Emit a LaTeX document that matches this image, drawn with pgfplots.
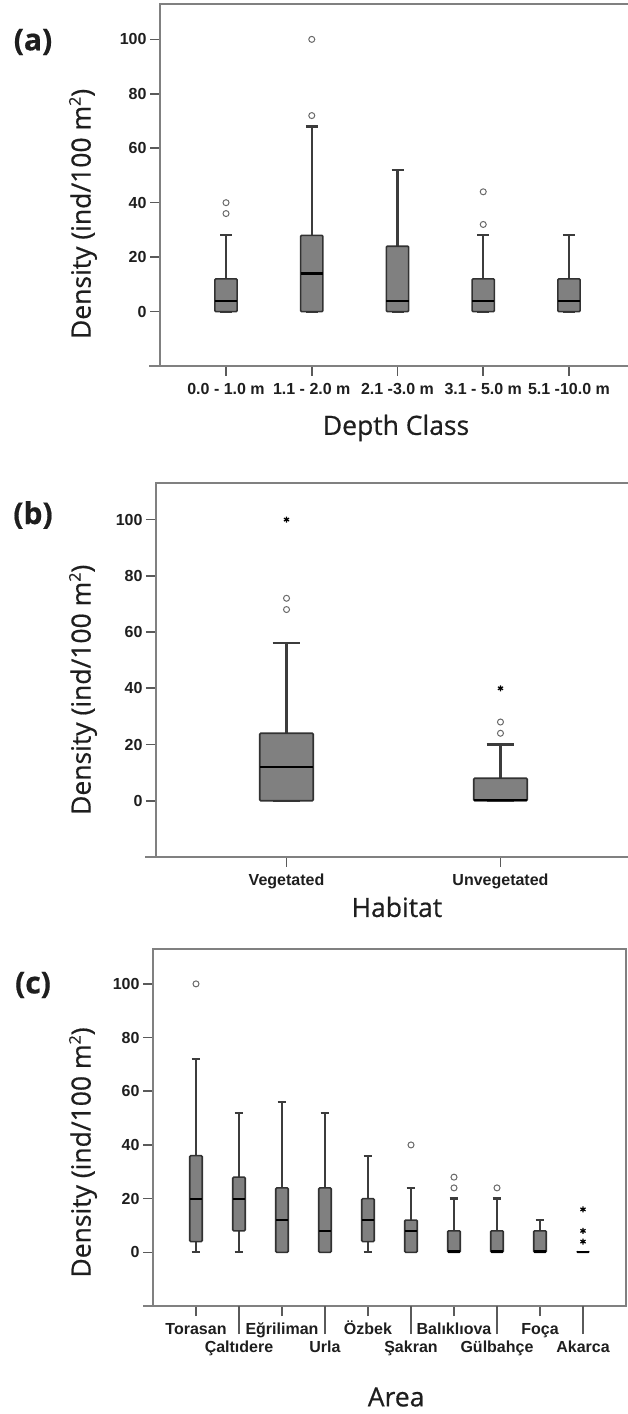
\documentclass[border=0pt]{standalone}
\usepackage{pgfplots}
\pgfplotsset{compat=1.18}
\usepgfplotslibrary{statistics}
\usepackage{fontspec}
\setmainfont{Liberation Sans}
\newfontfamily\labfont{Open Sans}[FakeBold=0.6]

\definecolor{frame}{RGB}{128,128,128}
\definecolor{tickc}{RGB}{90,90,90}
\definecolor{boxfill}{RGB}{128,128,128}
\definecolor{boxedge}{RGB}{50,50,50}
\definecolor{whisk}{RGB}{60,60,60}
\definecolor{outl}{RGB}{105,105,105}
\definecolor{txt}{RGB}{30,30,30}

\tikzset{lab/.style={font=\labfont\fontsize{26.5}{26.5}\selectfont, text=txt}}

\pgfplotsset{
  panel/.style={
    scale only axis, anchor=south west, clip=false,
    ymin=-20, ymax=113,
    ytick={0,20,40,60,80,100},
    minor tick num=0,
    tick align=outside, major tick length=10pt,
    tick pos=left,
    axis line style={draw=frame, line width=2pt},
    every tick/.style={draw=tickc, line width=1.6pt},
    tick label style={font=\fontsize{16}{16}\selectfont\bfseries, text=txt},
    xticklabel style={text height=11.5pt, text depth=3.5pt},
    xticklabel shift=3pt,
    /pgf/number format/assume math mode=true,
    ylabel={Density (ind/100 m{\fontsize{16}{16}\selectfont\raisebox{10pt}{2}})},
    boxplot/draw direction=y,
    boxplot/every box/.style={draw=boxedge, fill=boxfill, line width=1.6pt, rounded corners=1pt},
    boxplot/every whisker/.style={draw=whisk, line width=2.3pt},
    boxplot/every median/.style={draw=black, line width=2.2pt},
  },
  outl/.style={only marks, mark=o, mark size=3pt, draw=outl, mark options={line width=1pt, draw=outl, fill=none}},
  extr/.style={only marks, mark=asterisk, mark size=3pt, mark options={line width=1.2pt, draw=black}},
}

\begin{document}
\begin{tikzpicture}
\useasboundingbox (0,0) rectangle (628pt,1414pt);

% ---------------- (a) Depth class ----------------
\begin{axis}[panel,
  at={(160pt,1048pt)}, width=475pt, height=362pt,
  xmin=0.23, xmax=5.77,
  xtick={1,2,3,4,5},
  xticklabels={0.0 - 1.0 m, 1.1 - 2.0 m, 2.1 -3.0 m, 3.1 - 5.0 m, 5.1 -10.0 m},
  xlabel={Depth Class},
  every axis x label/.style={at={([yshift=-62pt]rel axis cs:0.497,0)}, anchor=center, lab},
  every axis y label/.style={at={([xshift=-77pt]rel axis cs:0,0.42)}, anchor=center, rotate=90, lab},
]
\addplot[boxplot prepared={draw position=1, lower whisker=0, lower quartile=0, median=4, upper quartile=12, upper whisker=28, box extend=0.26, whisker extend=0.14}] coordinates {};
\addplot[boxplot prepared={draw position=2, lower whisker=0, lower quartile=0, median=14, upper quartile=28, upper whisker=68, box extend=0.26, whisker extend=0.14}] coordinates {};
\addplot[boxplot prepared={draw position=3, lower whisker=0, lower quartile=0, median=4, upper quartile=24, upper whisker=52, box extend=0.26, whisker extend=0.14}] coordinates {};
\addplot[boxplot prepared={draw position=4, lower whisker=0, lower quartile=0, median=4, upper quartile=12, upper whisker=28, box extend=0.26, whisker extend=0.14}] coordinates {};
\addplot[boxplot prepared={draw position=5, lower whisker=0, lower quartile=0, median=4, upper quartile=12, upper whisker=28, box extend=0.26, whisker extend=0.14}] coordinates {};
\addplot[outl] coordinates {(1,40) (1,36) (2,100) (2,72) (4,44) (4,32)};
\draw[draw=frame, line width=2pt] ([xshift=-11pt]rel axis cs:0,0) -- (rel axis cs:0,0);
\end{axis}
\node[font=\labfont\bfseries\fontsize{30}{30}\selectfont, text=txt] at (33pt,1372pt) {(a)};

% ---------------- (b) Habitat ----------------
\begin{axis}[panel,
  at={(156pt,557pt)}, width=475pt, height=374pt,
  xmin=0.39, xmax=2.61,
  xtick={1,2},
  xticklabels={Vegetated, Unvegetated},
  xlabel={Habitat},
  every axis x label/.style={at={([yshift=-50pt]rel axis cs:0.507,0)}, anchor=center, lab},
  every axis y label/.style={at={([xshift=-73pt]rel axis cs:0,0.447)}, anchor=center, rotate=90, lab},
]
\addplot[boxplot prepared={draw position=1, lower whisker=0, lower quartile=0, median=12, upper quartile=24, upper whisker=56, box extend=0.25, whisker extend=0.13}] coordinates {};
\addplot[boxplot prepared={draw position=2, lower whisker=0, lower quartile=0, median=0.4, upper quartile=8, upper whisker=20, box extend=0.25, whisker extend=0.13}] coordinates {};
\addplot[outl] coordinates {(1,72) (1,68) (2,28) (2,24)};
\addplot[extr] coordinates {(1,100) (2,40)};
\draw[draw=frame, line width=2pt] ([xshift=-11pt]rel axis cs:0,0) -- (rel axis cs:0,0);
\end{axis}
\node[font=\labfont\bfseries\fontsize{30}{30}\selectfont, text=txt] at (33pt,899pt) {(b)};

% ---------------- (c) Area ----------------
\begin{axis}[panel,
  at={(153pt,108pt)}, width=473pt, height=357pt,
  xmin=0, xmax=11,
  xtick={1,3,5,7,9},
  xticklabels={Torasan, Eğriliman, Özbek, Balıklıova, Foça},
  extra x ticks={2,4,6,8,10},
  extra x tick labels={Çaltıdere, Urla, Şakran, Gülbahçe, Akarca},
  extra x tick style={major tick length=28pt},
  xlabel={Area},
  every axis x label/.style={at={([yshift=-91pt]rel axis cs:0.514,0)}, anchor=center, lab},
  every axis y label/.style={at={([xshift=-70pt]rel axis cs:0,0.43)}, anchor=center, rotate=90, lab},
]
\addplot[boxplot prepared={draw position=1, lower whisker=0, lower quartile=4, median=20, upper quartile=36, upper whisker=72, box extend=0.29, whisker extend=0.2}] coordinates {};
\addplot[boxplot prepared={draw position=2, lower whisker=0, lower quartile=8, median=20, upper quartile=28, upper whisker=52, box extend=0.29, whisker extend=0.2}] coordinates {};
\addplot[boxplot prepared={draw position=3, lower whisker=0, lower quartile=0, median=12, upper quartile=24, upper whisker=56, box extend=0.29, whisker extend=0.2}] coordinates {};
\addplot[boxplot prepared={draw position=4, lower whisker=0, lower quartile=0, median=8, upper quartile=24, upper whisker=52, box extend=0.29, whisker extend=0.2}] coordinates {};
\addplot[boxplot prepared={draw position=5, lower whisker=0, lower quartile=4, median=12, upper quartile=20, upper whisker=36, box extend=0.29, whisker extend=0.2}] coordinates {};
\addplot[boxplot prepared={draw position=6, lower whisker=0, lower quartile=0, median=8, upper quartile=12, upper whisker=24, box extend=0.29, whisker extend=0.2}] coordinates {};
\addplot[boxplot prepared={draw position=7, lower whisker=0, lower quartile=0, median=0.3, upper quartile=8, upper whisker=20, box extend=0.29, whisker extend=0.2}] coordinates {};
\addplot[boxplot prepared={draw position=8, lower whisker=0, lower quartile=0, median=0.3, upper quartile=8, upper whisker=20, box extend=0.29, whisker extend=0.2}] coordinates {};
\addplot[boxplot prepared={draw position=9, lower whisker=0, lower quartile=0, median=0.3, upper quartile=8, upper whisker=12, box extend=0.29, whisker extend=0.2}] coordinates {};
\addplot[boxplot prepared={draw position=10, lower whisker=0, lower quartile=0, median=0, upper quartile=0, upper whisker=0, box extend=0.29, whisker extend=0.2}] coordinates {};
\addplot[outl] coordinates {(1,100) (6,40) (7,28) (7,24) (8,24)};
\addplot[extr] coordinates {(10,16) (10,8) (10,4)};
\draw[draw=frame, line width=2pt] ([xshift=-10pt]rel axis cs:0,0) -- (rel axis cs:0,0);
\end{axis}
\node[font=\labfont\bfseries\fontsize{30}{30}\selectfont, text=txt] at (33pt,429pt) {(c)};
\end{tikzpicture}
\end{document}
